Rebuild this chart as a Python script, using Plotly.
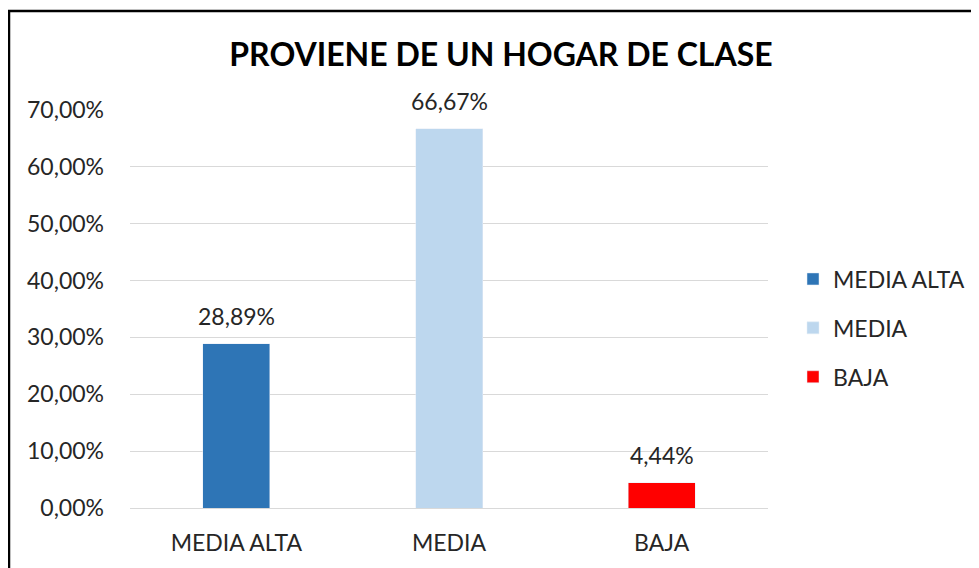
import plotly.graph_objects as go

categories = ["MEDIA ALTA", "MEDIA", "BAJA"]
values = [0.2889, 0.6667, 0.0444]
colors = ["#2E75B6", "#BDD7EE", "#FF0000"]
title = "PROVIENE DE UN HOGAR DE CLASE"

FONT = "Lato, Calibri, Carlito, sans-serif"
FS = 23

# page is offset by 8px body margin
OFF = 8
W, H = 979 - OFF, 568 - OFF
L, R, T, B = 130 - OFF, 211, 110 - OFF, 60
pw, ph = W - L - R, H - T - B


def px_x(x):
    return (x - OFF - L) / pw


def px_y(y):
    return (H - B - (y - OFF)) / ph


fig = go.Figure()
for c, v, col in zip(categories, values, colors):
    fig.add_trace(go.Bar(
        x=[c], y=[v], name=c, marker_color=col, legendgroup=c,
    ))
    fig.add_annotation(x=c, y=v, text=f"{v*100:.2f}%".replace(".", ","),
                       showarrow=False, yanchor="bottom", yshift=12,
                       font=dict(size=FS, color="#262626", family=FONT))

fig.add_shape(type="rect", xref="paper", yref="paper",
              x0=px_x(9), x1=px_x(1300), y0=px_y(900), y1=px_y(11),
              line=dict(color="black", width=2.5), fillcolor="rgba(0,0,0,0)")

fig.update_layout(
    width=W, height=H,
    margin=dict(l=L, r=R, t=T, b=B, autoexpand=False),
    barmode="stack", bargap=0.685,
    separators=",.",
    paper_bgcolor="white", plot_bgcolor="white",
    font=dict(family=FONT, size=FS, color="#262626"),
    title=dict(text="<b>" + title + "</b>", x=(501 - OFF) / W, xanchor="center",
               y=1 - (55 - OFF) / H, yanchor="middle",
               font=dict(size=32, color="black", family=FONT)),
    legend=dict(xref="container", yref="container",
                x=(793 - OFF) / W, y=1 - (328 - OFF) / H,
                xanchor="left", yanchor="middle",
                font=dict(size=FS, color="#262626", family=FONT),
                tracegroupgap=16, itemwidth=30, traceorder="grouped"),
    yaxis=dict(range=[0, 0.7], dtick=0.1, tickformat=".2%",
               showgrid=True, gridcolor="#d9d9d9", gridwidth=1.3,
               zeroline=True, zerolinecolor="#d9d9d9", zerolinewidth=1.3,
               showline=False, ticks="", ticklabelstandoff=25,
               tickfont=dict(size=FS)),
    xaxis=dict(showline=False, ticks="", tickfont=dict(size=FS),
               ticklabelstandoff=19),
)

fig.write_html("out.html")
